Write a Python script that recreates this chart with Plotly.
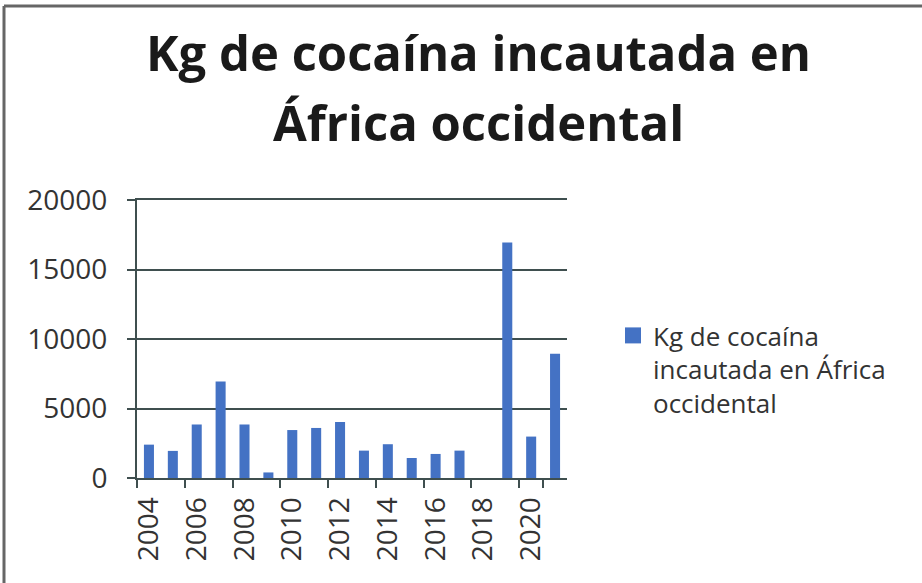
import plotly.graph_objects as go

years = [str(y) for y in range(2004, 2022)]
kg = [2400, 1950, 3850, 6950, 3850, 400, 3450, 3600, 4030, 1970, 2430, 1440, 1730, 1970, 0, 16950, 2980, 8930]
tick_years = [str(y) for y in range(2004, 2021, 2)]
y_ticks = [0, 5000, 10000, 15000, 20000]
y_tick_text = ["0", "5000", "10000", "15000", "20000"]
series_name = "Kg de cocaína<br>incautada en África<br>occidental"
title_lines = ["Kg de cocaína incautada en", "África occidental"]

W, H = 922, 583
L, R, T, B = 137, 567, 200, 478
bar_color = "#4472C4"

fig = go.Figure()
fig.add_trace(go.Bar(x=years, y=kg, name=series_name, marker=dict(color=bar_color, line=dict(width=0)),
                     showlegend=False))
# legend entry with a larger square swatch
fig.add_trace(go.Scatter(x=[None], y=[None], mode="markers", name=series_name,
                         marker=dict(symbol="square", size=20, color=bar_color), showlegend=True))

font_fam = "Open Sans, DejaVu Sans, sans-serif"
grid_col = "#3f4f4f"

px = lambda x: (x - L) / (R - L)
py = lambda y: (B - y) / (B - T)

fig.update_layout(
    width=W, height=H,
    margin=dict(l=L, r=W - R, t=T, b=H - B, autoexpand=False),
    paper_bgcolor="white", plot_bgcolor="white",
    bargap=0.58,
    xaxis=dict(type="category", tickmode="array", tickvals=tick_years, ticktext=tick_years,
               tickangle=-90, tickfont=dict(family=font_fam, size=28, color="#333333"),
               showline=True, linecolor=grid_col, linewidth=2, mirror=True,
               ticks="outside", ticklen=8, tickcolor=grid_col, tickwidth=2, tickson="boundaries",
               ticklabelstandoff=6,
               showgrid=False, range=[-0.5, 17.5], automargin=False),
    yaxis=dict(range=[0, 20000], tickvals=y_ticks, ticktext=y_tick_text,
               tickfont=dict(family=font_fam, size=28, color="#333333"),
               showgrid=True, gridcolor=grid_col, gridwidth=2,
               showline=True, linecolor=grid_col, linewidth=2,
               ticks="outside", ticklen=8, tickcolor=grid_col, tickwidth=2, zeroline=False,
               ticklabelstandoff=14, automargin=False),
    legend=dict(x=px(613), xanchor="left", y=py(312), yanchor="top",
                font=dict(family=font_fam, size=26, color="#333333"), itemwidth=30,
                itemsizing="trace", bgcolor="rgba(0,0,0,0)", valign="top"),
)

# title as two centred lines
for txt, yc in zip(title_lines, [52, 122]):
    fig.add_annotation(text=txt, xref="paper", yref="paper", x=px(478), y=py(yc),
                       xanchor="center", yanchor="middle", showarrow=False,
                       font=dict(family=font_fam, size=49, color="#1a1a1a", weight="bold"))

# outer frame (top and left edges)
fig.add_shape(type="line", xref="paper", yref="paper", x0=px(4), x1=px(W), y0=py(6), y1=py(6),
              line=dict(color="#666666", width=3))
fig.add_shape(type="line", xref="paper", yref="paper", x0=px(4), x1=px(4), y0=py(6), y1=py(H),
              line=dict(color="#666666", width=3))

fig.write_html("out.html", config={"displayModeBar": False},
               post_script="document.body.style.margin='0';document.body.style.overflow='hidden';")
